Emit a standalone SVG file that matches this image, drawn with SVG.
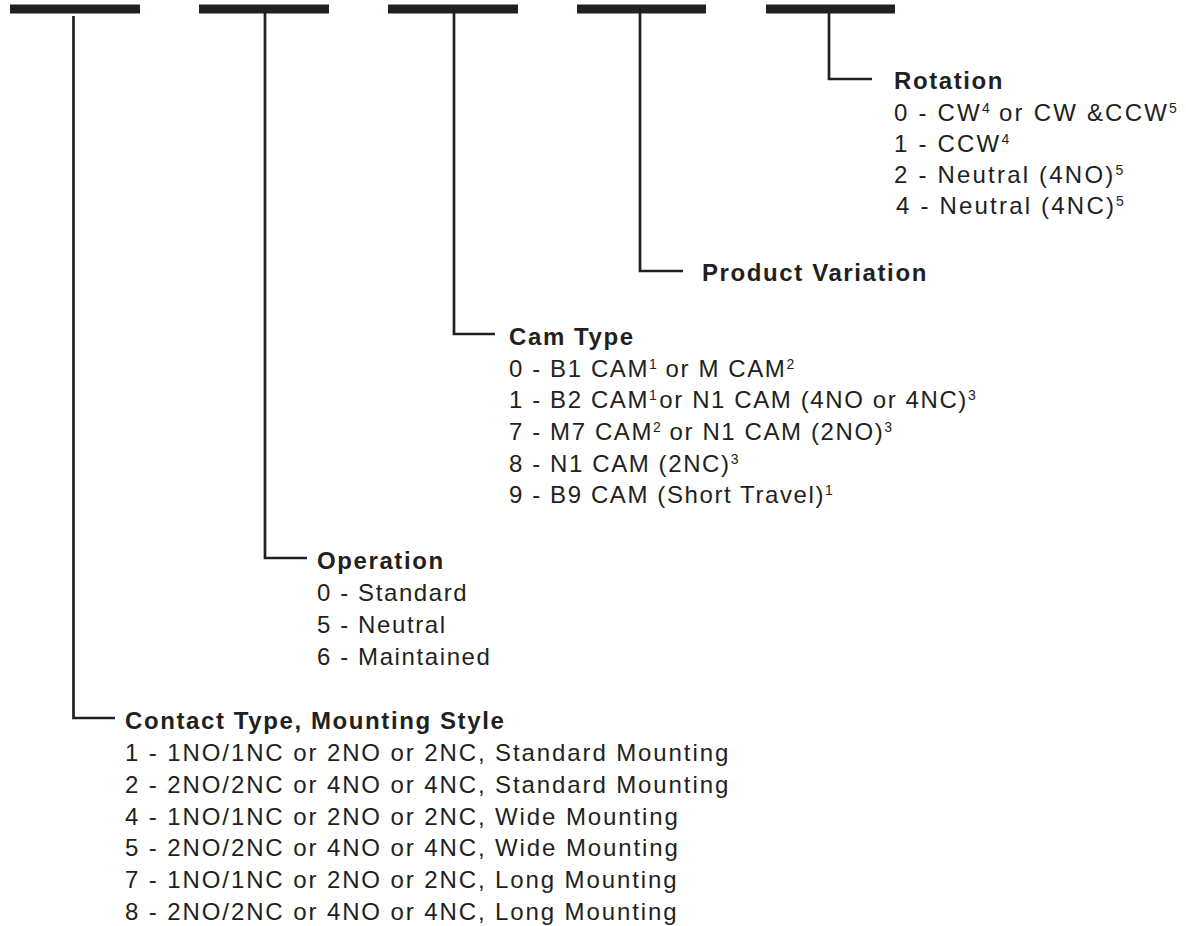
<svg xmlns="http://www.w3.org/2000/svg" width="1186" height="926" viewBox="0 0 1186 926">
  <style>
    .bar { fill: #231f20; }
    .conn { fill: none; stroke: #231f20; stroke-width: 2.7; stroke-linecap: butt; stroke-linejoin: miter; }
    .hd { font-family: "Liberation Sans", Arial, sans-serif; font-weight: bold; font-size: 24px; fill: #231f20; letter-spacing: 1.6px; }
    .tx { font-family: "Liberation Sans", Arial, sans-serif; font-size: 24px; fill: #231f20; letter-spacing: 1.6px; }
    .wide { letter-spacing: 1.9px; }
    .wider { letter-spacing: 2.2px; }
    .sup { font-size: 14px; letter-spacing: 0.5px; }
  </style>
  <rect width="1186" height="926" fill="#ffffff"/>

  <g id="bar-1"><rect class="bar" x="10" y="4.5" width="130" height="9"/></g>
  <g id="bar-2"><rect class="bar" x="199" y="4.5" width="130" height="9"/></g>
  <g id="bar-3"><rect class="bar" x="388" y="4.5" width="130" height="9"/></g>
  <g id="bar-4"><rect class="bar" x="577" y="4.5" width="129" height="9"/></g>
  <g id="bar-5"><rect class="bar" x="766" y="4.5" width="129" height="9"/></g>

  <g id="connectors">
    <path class="conn" d="M73.5 16 V718 H115"/>
    <path class="conn" d="M265 13 V558 H307"/>
    <path class="conn" d="M454 13 V334 H495"/>
    <path class="conn" d="M640 13 V271 H683"/>
    <path class="conn" d="M829 13 V79 H872"/>
  </g>

  <g id="rotation">
    <text class="hd" x="894" y="89">Rotation</text>
    <text class="tx wider" x="894" y="121">0 - CW<tspan class="sup" dy="-8">4</tspan><tspan dy="8"> or CW &amp;CCW</tspan><tspan class="sup" dy="-8">5</tspan></text>
    <text class="tx wider" x="894" y="152">1 - CCW<tspan class="sup" dy="-8">4</tspan></text>
    <text class="tx wider" x="894" y="183">2 - Neutral (4NO)<tspan class="sup" dy="-8">5</tspan></text>
    <text class="tx wider" x="896" y="214">4 - Neutral (4NC)<tspan class="sup" dy="-8">5</tspan></text>
  </g>

  <g id="product-variation">
    <text class="hd" x="702" y="281">Product Variation</text>
  </g>

  <g id="cam-type">
    <text class="hd" x="509" y="345">Cam Type</text>
    <text class="tx" x="509" y="377">0 - B1 CAM<tspan class="sup" dy="-8">1</tspan><tspan dy="8"> or M CAM</tspan><tspan class="sup" dy="-8">2</tspan></text>
    <text class="tx" x="509" y="408">1 - B2 CAM<tspan class="sup" dy="-8">1</tspan><tspan dy="8" dx="2">or N1 CAM (4NO or 4NC)</tspan><tspan class="sup" dy="-8">3</tspan></text>
    <text class="tx" x="509" y="440">7 - M7 CAM<tspan class="sup" dy="-8">2</tspan><tspan dy="8"> or N1 CAM (2NO)</tspan><tspan class="sup" dy="-8">3</tspan></text>
    <text class="tx" x="509" y="472">8 - N1 CAM (2NC)<tspan class="sup" dy="-8">3</tspan></text>
    <text class="tx" x="509" y="503">9 - B9 CAM (Short Travel)<tspan class="sup" dy="-8">1</tspan></text>
  </g>

  <g id="operation">
    <text class="hd" x="317" y="569">Operation</text>
    <text class="tx" x="317" y="601">0 - Standard</text>
    <text class="tx" x="317" y="633">5 - Neutral</text>
    <text class="tx" x="317" y="665">6 - Maintained</text>
  </g>

  <g id="contact-type">
    <text class="hd" x="125" y="729">Contact Type, Mounting Style</text>
    <text class="tx wide" x="125" y="761">1 - 1NO/1NC or 2NO or 2NC, Standard Mounting</text>
    <text class="tx wide" x="125" y="793">2 - 2NO/2NC or 4NO or 4NC, Standard Mounting</text>
    <text class="tx wide" x="125" y="825">4 - 1NO/1NC or 2NO or 2NC, Wide Mounting</text>
    <text class="tx wide" x="125" y="856">5 - 2NO/2NC or 4NO or 4NC, Wide Mounting</text>
    <text class="tx wide" x="125" y="888">7 - 1NO/1NC or 2NO or 2NC, Long Mounting</text>
    <text class="tx wide" x="125" y="920">8 - 2NO/2NC or 4NO or 4NC, Long Mounting</text>
  </g>
</svg>
